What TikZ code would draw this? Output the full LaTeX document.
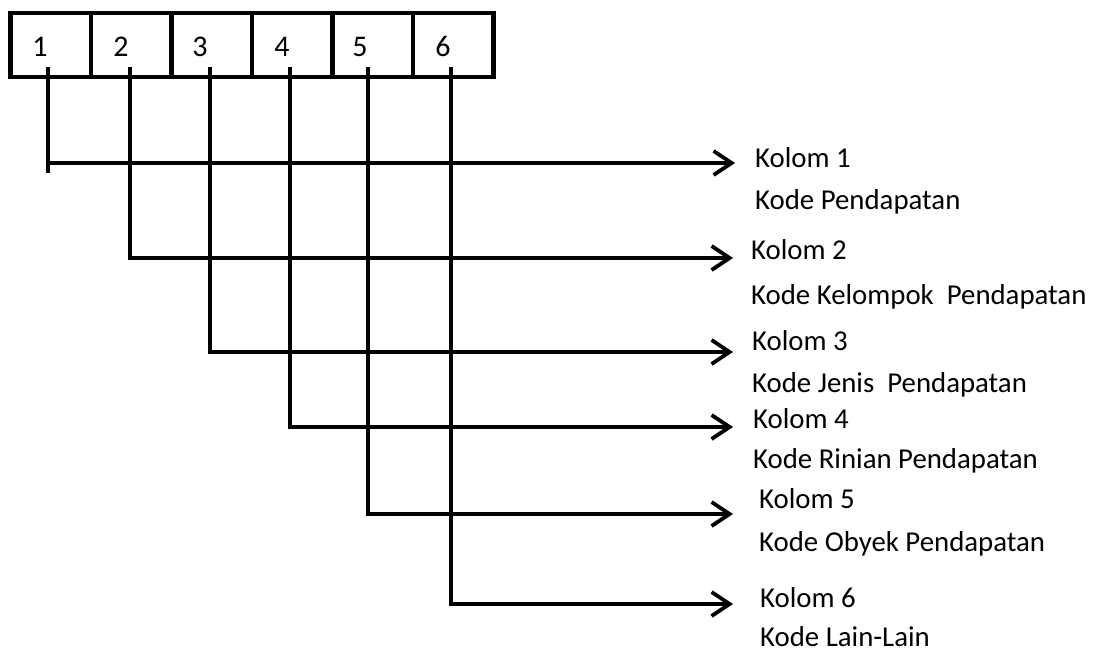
\documentclass[tikz,border=0pt]{standalone}
\usepackage{fontspec}
\setmainfont{Carlito}
\usetikzlibrary{arrows.meta}
\begin{document}
\begin{tikzpicture}[x=1pt,y=-1pt,
  cell/.style={draw,line width=4.5pt,minimum width=80.5pt,minimum height=64pt,inner sep=0pt},
  digit/.style={anchor=base,inner sep=0pt,font=\fontsize{30}{36}\selectfont},
  wire/.style={line width=3.8pt},
  arr/.style={wire,-{Straight Barb[length=18pt,width=24pt]}},
  lbl/.style={anchor=base west,inner sep=0pt,font=\fontsize{28.8}{34}\selectfont}]
\useasboundingbox (0,0) rectangle (1094,653);
% cells
\node[cell] (c1) at (50.5,45) {};
\node[cell] (c2) at (131,45) {};
\node[cell] (c3) at (211.5,45) {};
\node[cell] (c4) at (292,45) {};
\node[cell] (c5) at (372.5,45) {};
\node[cell] (c6) at (453,45) {};
\node[digit] (d1) at (40,56) {1};
\node[digit] (d2) at (121,56) {2};
\node[digit] (d3) at (200,56) {3};
\node[digit] (d4) at (282,56) {4};
\node[digit] (d5) at (360,56) {5};
\node[digit] (d6) at (443,56) {6};
% start points
\coordinate (s1) at (48,67);
\coordinate (s2) at (130,67);
\coordinate (s3) at (210,67);
\coordinate (s4) at (290,67);
\coordinate (s5) at (368,67);
\coordinate (s6) at (451,67);
\coordinate (b1) at (48,173);
% arrow tips
\coordinate (t1) at (735,163);
\coordinate (t2) at (733,258);
\coordinate (t3) at (733,352);
\coordinate (t4) at (733,427);
\coordinate (t5) at (733,514);
\coordinate (t6) at (733,604);
% connectors
\draw[wire] (s1) -- (b1);
\draw[arr] (b1 |- t1) -- (t1);
\draw[arr] (s2) |- (t2);
\draw[arr] (s3) |- (t3);
\draw[arr] (s4) |- (t4);
\draw[arr] (s5) |- (t5);
\draw[arr] (s6) |- (t6);
% labels
\node[lbl] (k1) at (755,167) {Kolom 1};
\node[lbl] (n1) at (755,209) {Kode Pendapatan};
\node[lbl] (k2) at (751,259) {Kolom 2};
\node[lbl] (n2) at (751,304) {Kode Kelompok\ \ Pendapatan};
\node[lbl] (k3) at (752,350) {Kolom 3};
\node[lbl] (n3) at (752,392) {Kode Jenis\ \ Pendapatan};
\node[lbl] (k4) at (753,428) {Kolom 4};
\node[lbl] (n4) at (753,468) {Kode Rinian Pendapatan};
\node[lbl] (k5) at (759,508) {Kolom 5};
\node[lbl] (n5) at (759,551) {Kode Obyek Pendapatan};
\node[lbl] (k6) at (760,607) {Kolom 6};
\node[lbl] (n6) at (760,646) {Kode Lain-Lain};
\end{tikzpicture}
\end{document}
